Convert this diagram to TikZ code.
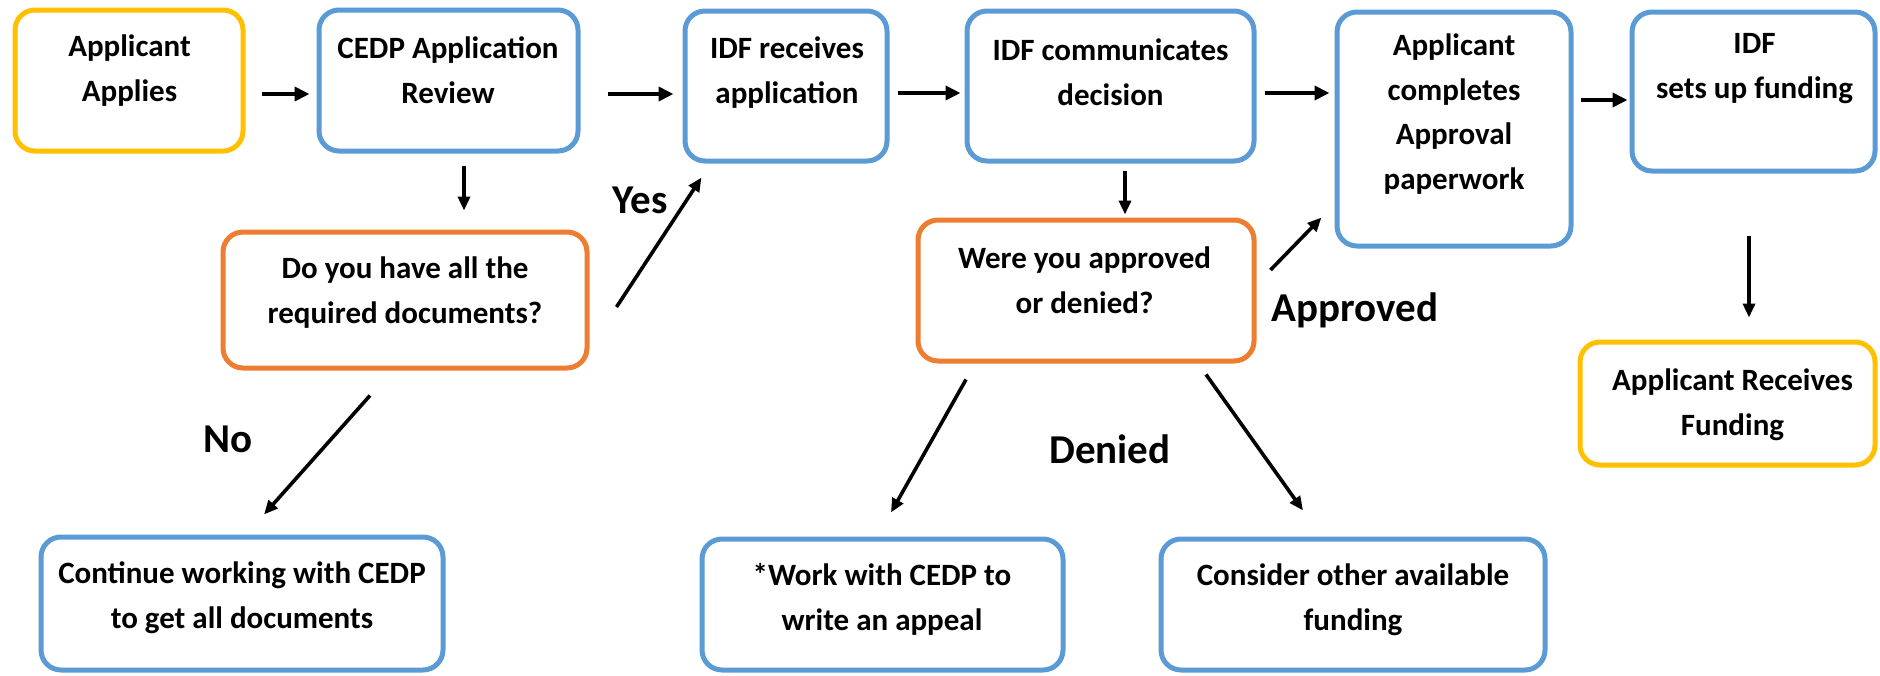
\documentclass[tikz,border=0pt]{standalone}
\usepackage{fontspec}
\setmainfont{Carlito}
\usetikzlibrary{arrows.meta}
\definecolor{cblue}{RGB}{91,155,213}
\definecolor{corange}{RGB}{237,125,49}
\definecolor{cgold}{RGB}{255,192,0}
\begin{document}
\begin{tikzpicture}[x=0.5pt,y=-0.5pt,
  box/.style={draw, line width=2.5pt, rounded corners=10pt, inner sep=0pt, fill=white},
  bluebox/.style={box, draw=cblue},
  orangebox/.style={box, draw=corange},
  goldbox/.style={box, draw=cgold},
  sz/.style 2 args={minimum width=#1pt, minimum height=#2pt},
  txt/.style={align=center, inner sep=0pt, font=\fontsize{15.5}{22.3}\selectfont\bfseries},
  lbl/.style={inner sep=0pt, font=\fontsize{20.5}{24}\selectfont\bfseries},
  thickarr/.style={line width=2.1pt, -{Triangle[length=7.5pt,width=7pt]}},
  thinarr/.style={line width=1.8pt, -{Triangle[length=7pt,width=6pt]}}
]
\useasboundingbox (0,0) rectangle (1880,675);

% boxes
\node[goldbox, sz={114}{70.5}] (a1) at (129,80.5) {};
\node[bluebox, sz={129.5}{70.5}] (a2) at (448.5,80.5) {};
\node[bluebox, sz={101}{75}] (a3) at (786,86) {};
\node[bluebox, sz={143.5}{75}] (a4) at (1110.5,86) {};
\node[bluebox, sz={117}{117}] (a5) at (1454,129) {};
\node[bluebox, sz={121.5}{79.5}] (a6) at (1753.5,91.5) {};
\node[orangebox, sz={182}{68}] (q1) at (405,300) {};
\node[orangebox, sz={168}{70.5}] (q2) at (1086,290.5) {};
\node[goldbox, sz={147.5}{61.5}] (fund) at (1727.5,403.5) {};
\node[bluebox, sz={201}{66.5}] (cont) at (242,603.5) {};
\node[bluebox, sz={180.5}{65.5}] (appeal) at (882.5,604.5) {};
\node[bluebox, sz={192}{65.5}] (consider) at (1353,604.5) {};

% texts
\node[txt] (t1) at (129.5,70.5) {Applicant\\Applies};
\node[txt] (t2) at (448,70.5) {CEDP Application\\Review};
\node[txt] (t3) at (787,72.5) {IDF receives\\application};
\node[txt] (t4) at (1110.5,72.5) {IDF communicates\\decision};
\node[txt] (t5) at (1454,114) {Applicant\\completes\\Approval\\paperwork};
\node[txt] (t6) at (1754.5,68.5) {IDF\\sets up funding};
\node[txt] (tq1) at (405,292.5) {Do you have all the\\required documents?};
\node[txt] (tq2) at (1084.5,280.5) {Were you approved\\or denied?};
\node[txt] (tf) at (1732.5,404.5) {Applicant Receives\\Funding};
\node[txt] (tc) at (242,597.5) {Continue working with CEDP\\to get all documents};
\node[txt] (ta) at (882,599.5) {*Work with CEDP to\\write an appeal};
\node[txt] (tco) at (1353,599.5) {Consider other available\\funding};

% labels
\node[lbl] (yes) at (640,200) {Yes};
\node[lbl] (no) at (228,439) {No};
\node[lbl] (denied) at (1110,449) {Denied};
\node[lbl] (approved) at (1355,310) {Approved};

% main flow arrows
\draw[thickarr] ([shift={(16,13.5)}]a1.east) -- ([shift={(-7,13.5)}]a2.west);
\draw[thickarr] ([shift={(27,13.5)}]a2.east) -- ([shift={(-9,8)}]a3.west);
\draw[thickarr] ([shift={(8,7)}]a3.east) -- ([shift={(-4,7)}]a4.west);
\draw[thickarr] ([shift={(8,7)}]a4.east) -- ([shift={(-5,7)}]a4.east -| a5.west);
\draw[thickarr] ([shift={(7,-29)}]a5.east) -- ([shift={(-2,8.5)}]a6.west);

% vertical arrows
\draw[thinarr] ([shift={(15.5,12)}]a2.south) -- ([shift={(59,-19)}]q1.north);
\draw[thinarr] ([shift={(14.5,7)}]a4.south) -- ([shift={(39,-3)}]q2.north);
\draw[thinarr] ([shift={(-4.5,62)}]a6.south) -- ([shift={(21.5,-22)}]fund.north);

% diagonal arrows
\draw[thinarr] ([shift={(27,7)}]q1.east) -- ([shift={(19,14)}]a3.south west);
\draw[thinarr] ([shift={(-35,25)}]q1.south) -- ([shift={(22,-20)}]cont.north);
\draw[thinarr] ([shift={(14,-20.5)}]q2.east) -- ([shift={(-13,-31)}]a5.south west);
\draw[thinarr] ([shift={(-120,16)}]q2.south) -- ([shift={(8.5,-24)}]appeal.north);
\draw[thinarr] ([shift={(120,11)}]q2.south) -- ([shift={(-50,-26)}]consider.north);
\end{tikzpicture}
\end{document}
